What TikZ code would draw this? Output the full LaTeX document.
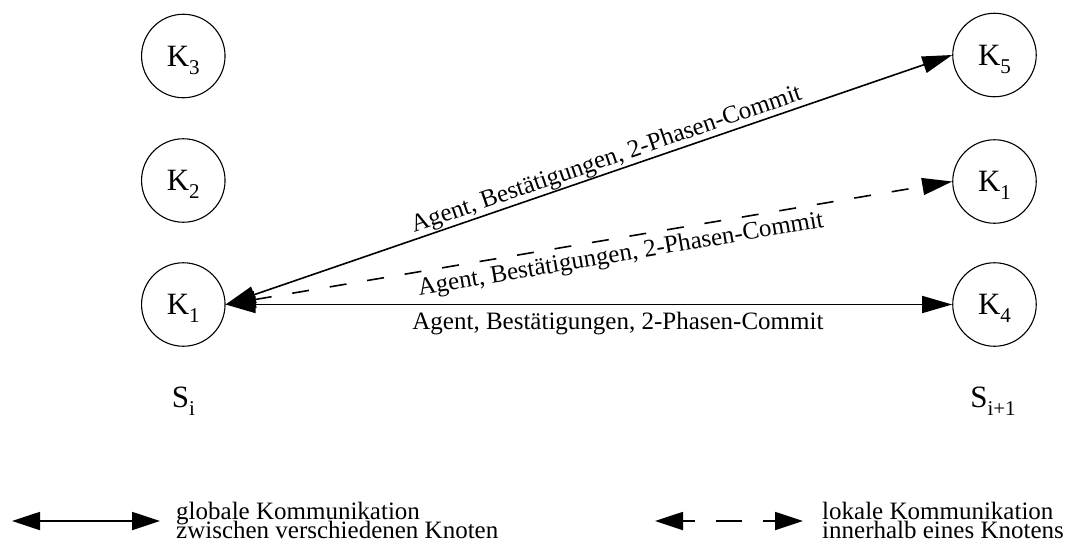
\documentclass[tikz,border=0pt]{standalone}
\usepackage{fontspec}
\setmainfont{Liberation Serif}
\usetikzlibrary{arrows.meta}
% lowered index in the node labels
\newcommand\lowsub[1]{\raisebox{-8pt}{\fontsize{21}{21}\selectfont #1}}
\begin{document}
\begin{tikzpicture}[x=1pt,y=-1pt,
  knoten/.style={circle, draw, line width=1.1pt, minimum size=83.5pt, inner sep=0pt,
                 font=\fontsize{31}{31}\selectfont, text height=20pt, text depth=0pt},
  stufe/.style={font=\fontsize{31}{31}\selectfont, anchor=base, inner sep=0pt},
  kante/.style={line width=1.6pt,
                {Triangle[length=30pt,width=17pt]}-{Triangle[length=30pt,width=17pt]}},
  lokal/.style={kante, dash pattern=on 17pt off 21pt},
  beschr/.style={font=\fontsize{25}{25}\selectfont, inner sep=0.5pt},
  legende/.style={font=\fontsize{25}{25}\selectfont, anchor=base west, inner sep=0pt},
  legpfeil/.style={line width=1.8pt,
                {Triangle[length=28pt,width=18pt]}-{Triangle[length=28pt,width=18pt]}}
]
\useasboundingbox (0,0) rectangle (1069,544);

% nodes of stage S_i
\node[knoten] (k3)  at (183.3,56)    {K\lowsub{3}};
\node[knoten] (k2)  at (183.3,180.5) {K\lowsub{2}};
\node[knoten] (k1)  at (183.3,304.5) {K\lowsub{1}};
% nodes of stage S_{i+1}
\node[knoten] (k5)  at (994.5,55)    {K\lowsub{5}};
\node[knoten] (k1r) at (994.5,181.5) {K\lowsub{1}};
\node[knoten] (k4)  at (994.5,304.5) {K\lowsub{4}};

% stage labels
\node[stufe] (si)  at (183.3,407) {S\lowsub{i}};
\node[stufe] (si1) at (993,407)   {S\lowsub{i+1}};

% communication between the stages
\draw[kante] (k1.east) -- node[beschr, sloped, above, pos=0.53] (l5)
  {Agent, Bestätigungen, 2-Phasen-Commit} (k5.west);
\draw[lokal] (k1.east) -- node[beschr, sloped, below=5pt, pos=0.54] (l1)
  {Agent, Bestätigungen, 2-Phasen-Commit} (k1r.west);
\draw[kante] (k1.east) -- node[beschr, below=6pt, pos=0.54] (l4)
  {Agent, Bestätigungen, 2-Phasen-Commit} (k4.west);

% legend
\coordinate (ga) at (12,521);
\coordinate (gb) at (160,521);
\draw[legpfeil] (ga) -- (gb);
\node[legende] (gt1) at (176,519)   {globale Kommunikation};
\node[legende] (gt2) at (176,538.5) {zwischen verschiedenen Knoten};

\coordinate (la) at (655,521);
\coordinate (lb) at (803,521);
\draw[legpfeil, dash pattern=on 26pt off 21pt, dash phase=14pt] (la) -- (lb);
\node[legende] (lt1) at (822,519)   {lokale Kommunikation};
\node[legende] (lt2) at (822,538.5) {innerhalb eines Knotens};
\end{tikzpicture}
\end{document}
